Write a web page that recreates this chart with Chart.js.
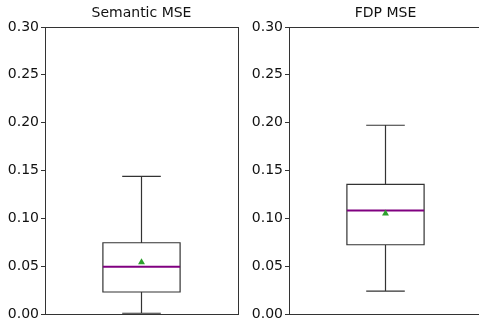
<!DOCTYPE html>
<html>
<head>
<meta charset="utf-8">
<script src="https://cdn.jsdelivr.net/npm/chart.js@4"></script>
<style>
  html, body { margin: 0; padding: 0; background: #fff; overflow: hidden; }
  .panel { position: absolute; top: 0; height: 326px; }
  #leftPanel { left: 0; width: 240px; }
  #rightPanel { left: 244px; width: 240px; }
</style>
</head>
<body>
<div class="panel" id="leftPanel"><canvas id="semanticChart"></canvas></div>
<div class="panel" id="rightPanel"><canvas id="fdpChart"></canvas></div>
<script>
// Box plot values
const titles = ["Semantic MSE", "FDP MSE"];
const whiskerLow = [0.0008, 0.024];
const quartile1 = [0.023, 0.0724];
const medians = [0.0494, 0.1083];
const quartile3 = [0.0745, 0.1354];
const whiskerHigh = [0.1438, 0.1973];
const means = [0.054, 0.105];
const yTicks = [0, 0.05, 0.10, 0.15, 0.20, 0.25, 0.30];

const BOX_HALF = 0.2;   // in x units (xlim 0.5 .. 1.5)
const CAP_HALF = 0.1;

// Draws box, whiskers, median, frame and title through the chart scales
const boxPlugin = {
  id: "boxPlot",
  beforeDatasetsDraw(chart) {
    const i = chart.options.plugins.boxPlot.index;
    const x = chart.scales.x, y = chart.scales.y;
    const ctx = chart.ctx;
    const cx = x.getPixelForValue(1);
    const bl = x.getPixelForValue(1 - BOX_HALF), br = x.getPixelForValue(1 + BOX_HALF);
    const cl = x.getPixelForValue(1 - CAP_HALF), cr = x.getPixelForValue(1 + CAP_HALF);
    ctx.save();
    ctx.strokeStyle = "#333";
    ctx.lineWidth = 1.2;
    ctx.beginPath();
    // box
    ctx.rect(bl, y.getPixelForValue(quartile3[i]), br - bl,
      y.getPixelForValue(quartile1[i]) - y.getPixelForValue(quartile3[i]));
    // whiskers
    ctx.moveTo(cx, y.getPixelForValue(quartile3[i]));
    ctx.lineTo(cx, y.getPixelForValue(whiskerHigh[i]));
    ctx.moveTo(cx, y.getPixelForValue(quartile1[i]));
    ctx.lineTo(cx, y.getPixelForValue(whiskerLow[i]));
    // caps
    ctx.moveTo(cl, y.getPixelForValue(whiskerHigh[i]));
    ctx.lineTo(cr, y.getPixelForValue(whiskerHigh[i]));
    ctx.moveTo(cl, y.getPixelForValue(whiskerLow[i]));
    ctx.lineTo(cr, y.getPixelForValue(whiskerLow[i]));
    ctx.stroke();
    // median
    ctx.strokeStyle = "#800080";
    ctx.lineWidth = 2;
    ctx.beginPath();
    ctx.moveTo(bl, y.getPixelForValue(medians[i]));
    ctx.lineTo(br, y.getPixelForValue(medians[i]));
    ctx.stroke();
    ctx.restore();
  },
  afterDraw(chart) {
    const i = chart.options.plugins.boxPlot.index;
    const a = chart.chartArea;
    const ctx = chart.ctx;
    ctx.save();
    // axes frame (matplotlib spines)
    ctx.strokeStyle = "#333";
    ctx.lineWidth = 1;
    ctx.strokeRect(Math.round(a.left) + 0.5, Math.round(a.top) + 0.5,
      Math.round(a.right - a.left), Math.round(a.bottom - a.top));
    // title centred over the axes
    ctx.fillStyle = "#111";
    ctx.font = "14px 'DejaVu Sans'";
    ctx.textAlign = "center";
    ctx.textBaseline = "middle";
    ctx.fillText(titles[i], (a.left + a.right) / 2, 13);
    ctx.restore();
  }
};

const makeChart = (canvasId, i) => {
  const el = document.getElementById(canvasId);
  return new Chart(el, {
    type: "scatter",
    data: {
      datasets: [{
        label: "mean",
        data: [{ x: 1, y: means[i] }],
        pointStyle: "triangle",
        pointRadius: 4,
        pointHoverRadius: 4,
        backgroundColor: "#2ca02c",
        borderColor: "#2ca02c",
        borderWidth: 0
      }]
    },
    options: {
      responsive: true,
      maintainAspectRatio: false,
      animation: false,
      events: [],
      layout: { autoPadding: false, padding: { left: 0, right: 2, top: 27, bottom: 12 } },
      plugins: {
        legend: { display: false },
        tooltip: { enabled: false },
        title: { display: false },
        boxPlot: { index: i }
      },
      scales: {
        x: { type: "linear", min: 0.5, max: 1.5, display: false },
        y: {
          type: "linear",
          min: 0,
          max: 0.3,
          afterFit: (scale) => { scale.width = 45; },
          afterBuildTicks: (scale) => { scale.ticks = yTicks.map(v => ({ value: v })); },
          border: { display: false },
          grid: { drawOnChartArea: false, drawTicks: true, tickLength: 4, color: "#333" },
          ticks: {
            color: "#111",
            padding: 2,
            font: { family: "DejaVu Sans", size: 14 },
            callback: (v) => Number(v).toFixed(2)
          }
        }
      }
    },
    plugins: [boxPlugin]
  });
};

makeChart("semanticChart", 0);
makeChart("fdpChart", 1);
</script>
</body>
</html>
